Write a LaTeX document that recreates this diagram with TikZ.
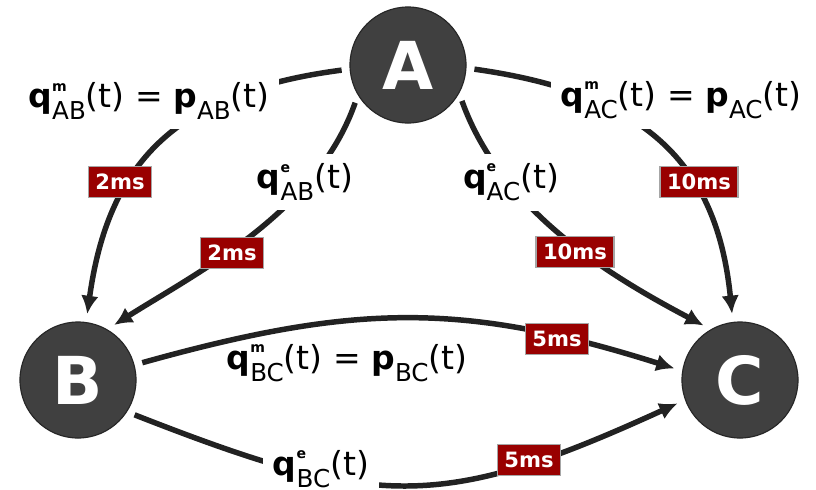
\documentclass[tikz,border=0pt]{standalone}
\usepackage{fontspec}
\setmainfont{DejaVu Sans}
\usetikzlibrary{arrows.meta}

\definecolor{delayred}{RGB}{153,0,0}
\definecolor{nodegray}{RGB}{64,64,64}
\definecolor{linkgray}{RGB}{34,34,34}

% signal name: letter, upper index, lower index
\newcommand{\sig}[3]{\textbf{#1}\rlap{\raisebox{0.5em}{\fontsize{10}{10}\selectfont\bfseries #2}}\raisebox{-0.36em}{\fontsize{17.5}{18}\selectfont #3}(t)}

\begin{document}
\begin{tikzpicture}[x=0.025cm,y=-0.025cm,
   station/.style={circle,draw=black!85,line width=0.8pt,fill=nodegray,text=white,minimum size=2.9cm,inner sep=0pt,font=\fontsize{47}{47}\selectfont\bfseries},
   link/.style={draw=linkgray,line width=3.9pt,-{Latex[length=13pt,width=12.5pt]},shorten <=0.2cm,shorten >=0.2cm},
   flow/.style={fill=white,inner sep=7pt,font=\fontsize{23.5}{26}\selectfont},
   delay/.style={draw=gray!70,line width=0.8pt,fill=delayred,text=white,font=\fontsize{15}{15}\selectfont\bfseries,minimum height=0.77cm,inner xsep=5pt}]
  \useasboundingbox (0,0) rectangle (816,489);
  \node[station] (A) at (408,65) {A};
  \node[station] (B) at (78,380) {B};
  \node[station] (C) at (740,380) {C};
  % links
  \draw[link] (A.184) .. controls (174,92) and (108,164) .. (B.82);
  \draw[link] (A.211) .. controls (317,212) and (198,272) .. (B.60);
  \draw[link] (A.357) .. controls (645,93) and (717,163) .. (C.97);
  \draw[link] (A.331) .. controls (502,213) and (614,278) .. (C.120);
  \draw[link] (B.15) .. controls (356,303) and (464,302) .. (C.171);
  \draw[link] (B.327) .. controls (375,509) and (440,512) .. (C.200);
  % signals
  \node[flow] (qABm) at (149,101) {\sig{q}{m}{AB} = \sig{p}{}{AB}};
  \node[flow] (qACm) at (681,100) {\sig{q}{m}{AC} = \sig{p}{}{AC}};
  \node[flow] (qABe) at (305,182) {\sig{q}{e}{AB}};
  \node[flow] (qACe) at (511,182) {\sig{q}{e}{AC}};
  \node[flow,fill=none] (qBCm) at (347,363) {\sig{q}{m}{BC} = \sig{p}{}{BC}};
  \node[flow] (qBCe) at (321,469) {\sig{q}{e}{BC}};
  % delays
  \node[delay] (dABm) at (120,182) {2ms};
  \node[delay] (dABe) at (232,253) {2ms};
  \node[delay] (dACm) at (699,182) {10ms};
  \node[delay] (dACe) at (575,252) {10ms};
  \node[delay] (dBCm) at (557,339) {5ms};
  \node[delay] (dBCe) at (529,460) {5ms};
\end{tikzpicture}
\end{document}
